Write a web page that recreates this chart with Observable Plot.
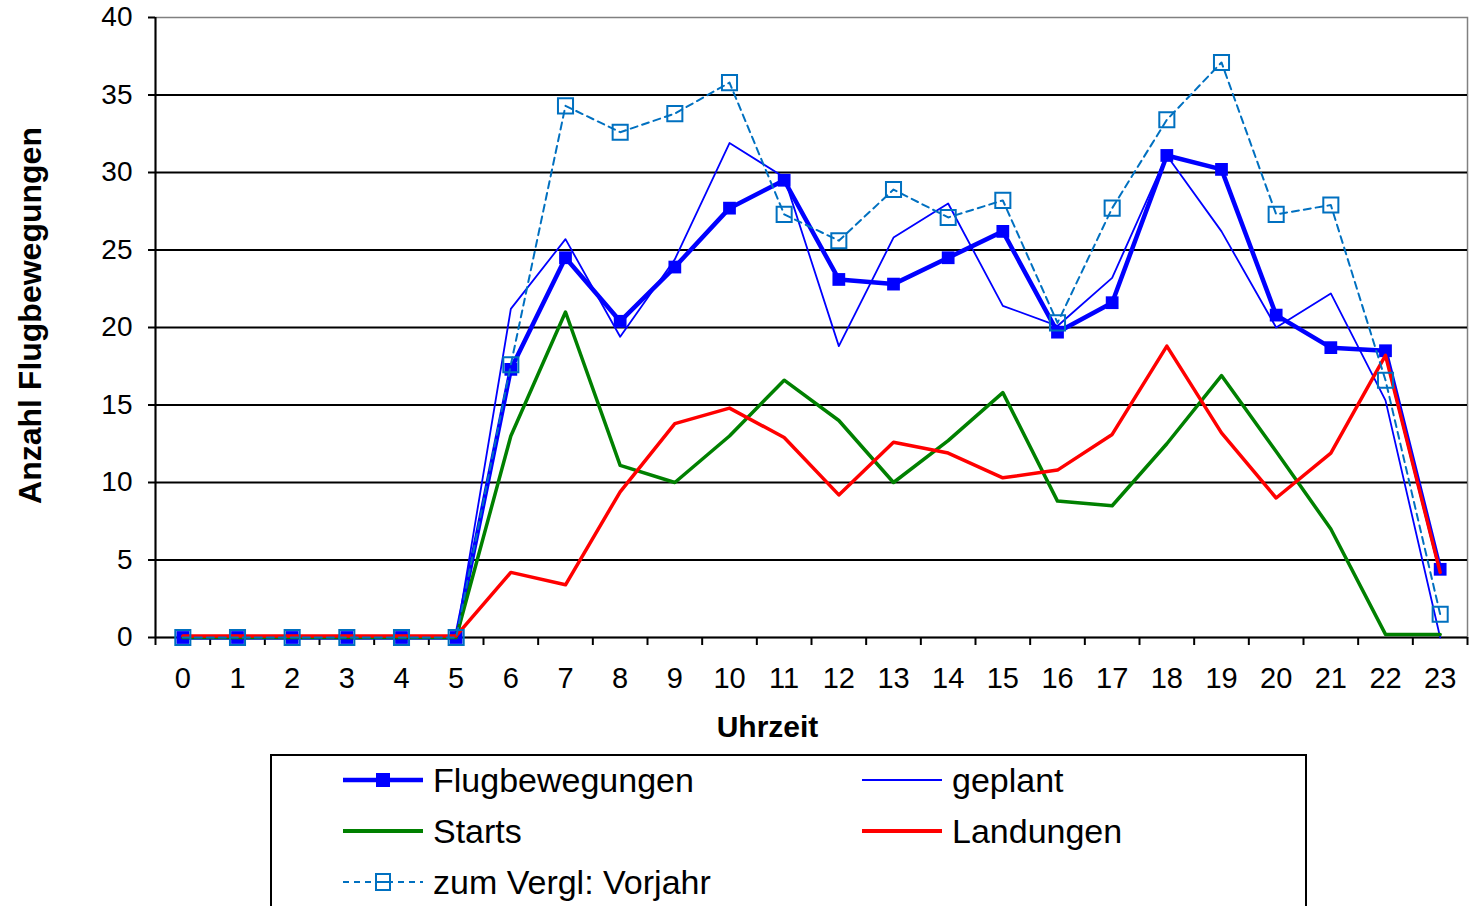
<!DOCTYPE html>
<html><head><meta charset="utf-8">
<script src="https://cdn.jsdelivr.net/npm/d3@7"></script>
<script src="https://cdn.jsdelivr.net/npm/@observablehq/plot@0.6"></script>
<style>
body{margin:0;background:#fff;font-family:"Liberation Sans",Arial,sans-serif;}
#wrap{position:relative;width:1470px;height:906px;overflow:hidden;background:#fff;}
#chart svg{display:block;}
#legend{position:absolute;left:270px;top:754px;width:1037px;height:220px;border:2px solid #000;box-sizing:border-box;background:#fff;}
.entry{position:absolute;height:40px;display:flex;align-items:center;font-size:34px;color:#000;white-space:nowrap;}
.entry svg{margin-right:10px;}
</style></head><body>
<div id="wrap"><div id="chart"></div><div id="legend"></div></div>
<script>
const hours = [0,1,2,3,4,5,6,7,8,9,10,11,12,13,14,15,16,17,18,19,20,21,22,23];
const flugbewegungen = [0,0,0,0,0,0,17.3,24.5,20.4,23.9,27.7,29.5,23.1,22.8,24.5,26.2,19.7,21.6,31.1,30.2,20.8,18.7,18.5,4.4];
const geplant = [0,0,0,0,0,0,21.2,25.7,19.4,24.4,31.9,29.7,18.8,25.8,28.0,21.4,20.1,23.2,31.1,26.2,20.0,22.2,15.3,0];
const starts = [0,0,0,0,0,0,13.0,21.0,11.1,10.0,13.0,16.6,14.0,10.0,12.7,15.8,8.8,8.5,12.5,16.9,12.0,7.0,0.2,0.2];
const landungen = [0.1,0.1,0.1,0.1,0.1,0.1,4.2,3.4,9.4,13.8,14.8,12.9,9.2,12.6,11.9,10.3,10.8,13.1,18.8,13.2,9.0,11.9,18.2,4.2];
const vorjahr = [0,0,0,0,0,0,17.6,34.3,32.6,33.8,35.8,27.3,25.6,28.9,27.1,28.2,20.3,27.7,33.4,37.1,27.3,27.9,16.6,1.5];
const yTicks = [0,5,10,15,20,25,30,35,40];
const gridTicks = [5,10,15,20,25,30,35];
const xTitle = "Uhrzeit";
const yTitle = "Anzahl Flugbewegungen";
const seriesNames = ["Flugbewegungen","geplant","Starts","Landungen","zum Vergl: Vorjahr"];
const seriesColors = ["#0000FF","#0000FF","#008000","#FF0000","#0070C0"];

const rows = hours.map((h,i)=>({hour:h, flug:flugbewegungen[i], geplant:geplant[i], starts:starts[i], landungen:landungen[i], vorjahr:vorjahr[i]}));
const boundaries = hours.map(h=>h-0.5).concat([hours[hours.length-1]+0.5]);

const font = '"Liberation Sans", Arial, sans-serif';
const chart = Plot.plot({
  width: 1470, height: 752,
  marginLeft: 155, marginRight: 3, marginTop: 17, marginBottom: 115,
  style: {fontFamily: font, fontSize: "28px", color: "#000", background: "#fff", overflow: "visible"},
  x: {domain: [hours[0]-0.5, hours[hours.length-1]+0.5]},
  y: {domain: [0, 40]},
  marks: [
    Plot.frame({stroke: "#808080", strokeWidth: 1.5}),
    Plot.gridY({ticks: gridTicks, stroke: "#000", strokeOpacity: 1, strokeWidth: 2}),
    Plot.ruleX([boundaries[0]], {stroke: "#000", strokeWidth: 2}),
    Plot.ruleY([0], {stroke: "#000", strokeWidth: 2}),
    Plot.axisY({ticks: yTicks, tickSize: 7, tickPadding: 16, fontSize: 28, label: null, strokeWidth: 2}),
    Plot.axisX({ticks: hours, tickSize: 0, tickPadding: 30, fontSize: 29, label: null}),
    Plot.axisX({ticks: boundaries, tickSize: 8, tickFormat: () => "", label: null, strokeWidth: 2}),
    Plot.text([yTitle], {frameAnchor: "left", textAnchor: "middle", lineAnchor: "middle", rotate: -90, dx: -125, dy: -12, fontSize: 32, fontWeight: "bold", fill: "#000"}),
    Plot.text([xTitle], {frameAnchor: "bottom", textAnchor: "middle", lineAnchor: "middle", dx: -44, dy: 90, fontSize: 30, fontWeight: "bold", fill: "#000"}),
    Plot.line(rows, {x: "hour", y: "flug", stroke: seriesColors[0], strokeWidth: 4.5}),
    Plot.dot(rows, {x: "hour", y: "flug", symbol: "square", r: 7.2, fill: seriesColors[0], stroke: "none"}),
    Plot.line(rows, {x: "hour", y: "geplant", stroke: seriesColors[1], strokeWidth: 1.8}),
    Plot.line(rows, {x: "hour", y: "starts", stroke: seriesColors[2], strokeWidth: 3.5}),
    Plot.line(rows, {x: "hour", y: "landungen", stroke: seriesColors[3], strokeWidth: 3.5}),
    Plot.line(rows, {x: "hour", y: "vorjahr", stroke: seriesColors[4], strokeWidth: 2, strokeDasharray: "7,5"}),
    Plot.dot(rows, {x: "hour", y: "vorjahr", symbol: "square", r: 8.5, fill: "none", stroke: seriesColors[4], strokeWidth: 2})
  ]
});
document.getElementById("chart").appendChild(chart);

// Legend
const legend = document.getElementById("legend");
const pos = [[71,4],[590,4],[71,55],[590,55],[71,106]];
const kinds = ["thickMarker","thin","thick","thick","dashed"];
seriesNames.forEach((name,i)=>{
  const div = document.createElement("div");
  div.className = "entry";
  div.style.left = pos[i][0] + "px";
  div.style.top = pos[i][1] + "px";
  const c = seriesColors[i];
  let inner = "";
  if (kinds[i]==="thickMarker") inner = `<line x1="0" y1="20" x2="80" y2="20" stroke="${c}" stroke-width="4.5"/><rect x="33" y="13" width="14" height="14" fill="${c}"/>`;
  else if (kinds[i]==="thin") inner = `<line x1="0" y1="20" x2="80" y2="20" stroke="${c}" stroke-width="1.8"/>`;
  else if (kinds[i]==="thick") inner = `<line x1="0" y1="20" x2="80" y2="20" stroke="${c}" stroke-width="4"/>`;
  else inner = `<line x1="0" y1="20" x2="80" y2="20" stroke="${c}" stroke-width="2" stroke-dasharray="6,5"/><rect x="33" y="12" width="14" height="16" fill="#fff" stroke="${c}" stroke-width="2"/><line x1="33" y1="20" x2="47" y2="20" stroke="${c}" stroke-width="2"/>`;
  div.innerHTML = `<svg width="80" height="40">${inner}</svg><span>${name}</span>`;
  legend.appendChild(div);
});
</script>
</body></html>
